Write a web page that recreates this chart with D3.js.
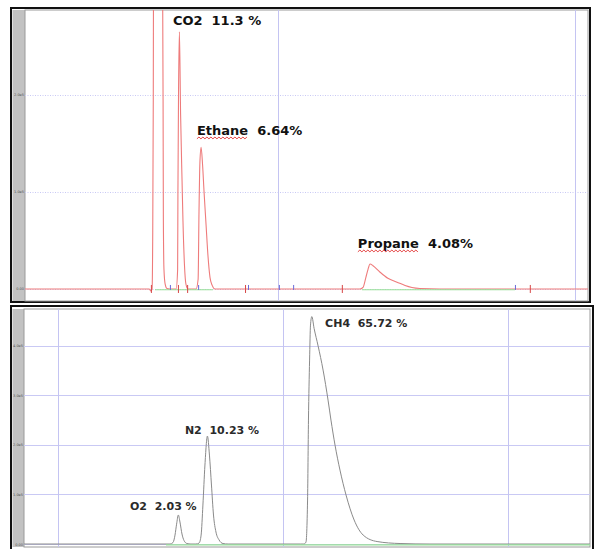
<!DOCTYPE html>
<html>
<head>
<meta charset="utf-8">
<script src="https://cdn.jsdelivr.net/npm/d3@7"></script>
<style>
  body { margin: 0; background: #fff; }
  svg { display: block; }
</style>
</head>
<body>
<svg id="chart" width="597" height="549"></svg>
<script>
// ---- data (time in min, detector signal) ----
// upper chromatogram (red trace)
const topTrace = [
  [0.148, 0], [0.566, 0], [0.572, -2], [0.576, 0], [0.578, 50], [0.580, 195], [0.581, 350],
  [0.596, 500], [0.611, 350], [0.613, 195], [0.614, 71], [0.616, 20], [0.620, 5], [0.626, 0.5], [0.636, 0],
  // CO2
  [0.657, 0], [0.662, 20], [0.663, 100], [0.665, 200], [0.668, 265], [0.672, 180], [0.677, 110],
  [0.680, 70], [0.685, 25], [0.690, 5], [0.697, 0],
  // ethane
  [0.724, 0], [0.731, 10], [0.734, 80], [0.737, 130], [0.741, 146], [0.746, 128], [0.751, 100],
  [0.758, 65], [0.764, 35], [0.771, 12], [0.778, 4], [0.788, 0],
  // propane
  [1.276, 0], [1.286, 1.5], [1.296, 12], [1.303, 20], [1.310, 25.8], [1.320, 24], [1.343, 17.5],
  [1.370, 11], [1.401, 7], [1.428, 3.5], [1.451, 1.5], [1.478, 0.5], [1.545, 0],
  [2.044, 0]
];
// lower chromatogram (grey trace)
const bottomTrace = [
  [0.849, 0], [1.498, 0],
  // O2
  [1.511, 3], [1.520, 18], [1.527, 40], [1.535, 58.5], [1.542, 44.4], [1.551, 20.2], [1.560, 7.1],
  [1.573, 1], [1.591, 0],
  // N2
  [1.613, 0], [1.627, 2], [1.636, 18], [1.644, 78.6], [1.653, 159.3], [1.664, 217.7], [1.673, 179.4],
  [1.682, 119], [1.691, 58.5], [1.702, 24.2], [1.716, 8.1], [1.733, 1], [1.756, 0],
  // CH4
  [2.076, 0], [2.093, 0], [2.102, 4], [2.109, 88.7], [2.113, 250], [2.118, 371], [2.122, 441.5],
  [2.128, 458.7], [2.138, 435], [2.156, 399.2], [2.178, 350.8], [2.200, 290.3], [2.213, 250],
  [2.231, 199.6], [2.253, 149.2], [2.280, 98.8], [2.316, 48.4], [2.356, 18.1], [2.418, 5],
  [2.520, 1], [2.653, 0],
  [3.364, 0]
];

const topLabels = [
  {name: "CO2", value: "11.3 %", t: 0.646, v: 272},
  {name: "Ethane", value: "6.64%", t: 0.727, v: 158.8, squiggle: true},
  {name: "Propane", value: "4.08%", t: 1.269, v: 42.3, squiggle: true}
];
const bottomLabels = [
  {name: "O2", value: "2.03 %", t: 1.320, v: 68.5},
  {name: "N2", value: "10.23 %", t: 1.564, v: 221.8},
  {name: "CH4", value: "65.72 %", t: 2.187, v: 437.5}
];

// integration baselines and marks
const topBaselines = [[0.586, 0.781], [1.283, 1.798]];
const bottomBaselines = [[1.480, 3.364]];
const topRedTicks = [0.572, 0.663, 0.694, 0.889, 1.215, 1.848];
const topBlueTicks = [0.636, 0.731, 0.899, 1.003, 1.051, 1.798];

const topXGrid = [1, 2];
const topYGrid = [0, 100, 200];
const topYTickLabels = ["0.00", "1.0e5", "2.0e5"];
const bottomXGrid = [1, 2, 3];
const bottomYGrid = [0, 100, 200, 300, 400];
const bottomYTickLabels = ["0.00", "1.0e5", "2.0e5", "3.0e5", "4.0e5"];

const svg = d3.select("#chart");

const panels = [
  {
    id: "top",
    frame: {x0: 11, y0: 8, x1: 590, y1: 302},
    plot: {x0: 25, y0: 10, x1: 588, y1: 301},
    xDomain: [0.148, 2.044], yDomain: [-12.4, 287.6],
    xGrid: topXGrid, yGrid: topYGrid, yLabels: topYTickLabels,
    hDash: "1,1.5", trace: topTrace, color: "#ee7b7b", width: 1.1,
    baselines: topBaselines, labels: topLabels, fontSize: 13, labelColor: "#111"
  },
  {
    id: "bottom",
    frame: {x0: 11, y0: 306, x1: 593, y1: 551},
    plot: {x0: 24, y0: 309, x1: 590, y1: 547},
    xDomain: [0.849, 3.364], yDomain: [-6, 474],
    xGrid: bottomXGrid, yGrid: bottomYGrid, yLabels: bottomYTickLabels,
    hDash: null, trace: bottomTrace, color: "#8a8a8a", width: 1,
    baselines: bottomBaselines, labels: bottomLabels, fontSize: 11, labelColor: "#2a2a2a"
  }
];

const drawPanel = function(p){
  const {frame, plot} = p;
  const g = svg.append("g").attr("class", "panel-" + p.id);
  const x = d3.scaleLinear(p.xDomain, [plot.x0, plot.x1]);
  const y = d3.scaleLinear(p.yDomain, [plot.y1, plot.y0]);

  // outer frame and grey strip
  g.append("rect")
    .attr("x", frame.x0).attr("y", frame.y0)
    .attr("width", frame.x1 - frame.x0).attr("height", frame.y1 - frame.y0)
    .attr("fill", "#fff").attr("stroke", "#111").attr("stroke-width", 2);
  g.append("rect")
    .attr("x", frame.x0 + 1.5).attr("y", plot.y0)
    .attr("width", plot.x0 - frame.x0 - 1.5).attr("height", plot.y1 - plot.y0)
    .attr("fill", "#c2c2c2");
  g.append("rect")
    .attr("x", plot.x0).attr("y", plot.y0)
    .attr("width", plot.x1 - plot.x0).attr("height", plot.y1 - plot.y0)
    .attr("fill", "#fff").attr("stroke", "#9a9a9a").attr("stroke-width", 1);

  g.append("clipPath").attr("id", "clip-" + p.id)
    .append("rect")
    .attr("x", plot.x0).attr("y", plot.y0)
    .attr("width", plot.x1 - plot.x0).attr("height", plot.y1 - plot.y0);

  // grid
  g.append("g").selectAll("line").data(p.yGrid).join("line")
    .attr("x1", plot.x0).attr("x2", plot.x1)
    .attr("y1", d => Math.round(y(d)) + 0.5).attr("y2", d => Math.round(y(d)) + 0.5)
    .attr("stroke", "#c9c9f4").attr("stroke-width", 1)
    .attr("stroke-dasharray", p.hDash);
  g.append("g").selectAll("line").data(p.xGrid).join("line")
    .attr("x1", d => Math.round(x(d)) + 0.5).attr("x2", d => Math.round(x(d)) + 0.5)
    .attr("y1", plot.y0).attr("y2", plot.y1)
    .attr("stroke", "#c4c4f2").attr("stroke-width", 1);

  // tiny tick labels in strip
  g.append("g").selectAll("text").data(p.yGrid).join("text")
    .attr("x", plot.x0 - 1).attr("y", d => y(d) + 1.5)
    .attr("text-anchor", "end")
    .attr("font-family", "DejaVu Sans, sans-serif").attr("font-size", 3.5)
    .attr("fill", "#555")
    .text((d, i) => p.yLabels[i]);

  const body = g.append("g").attr("clip-path", `url(#clip-${p.id})`);

  const line = d3.line()
    .x(d => x(d[0]))
    .y(d => y(d[1]))
    .curve(d3.curveMonotoneX);

  body.append("path")
    .datum(p.trace)
    .attr("d", line)
    .attr("fill", "none")
    .attr("stroke", p.color)
    .attr("stroke-width", p.width);

  // integration baselines, drawn over the flat part of the trace
  body.append("g").selectAll("line").data(p.baselines).join("line")
    .attr("x1", d => x(d[0])).attr("x2", d => x(d[1]))
    .attr("y1", y(0) + 0.8).attr("y2", y(0) + 0.8)
    .attr("stroke", "#96e096").attr("stroke-width", 1.2);

  // peak labels
  const lab = g.append("g").selectAll("g").data(p.labels).join("g");
  lab.append("text")
    .attr("x", d => x(d.t)).attr("y", d => y(d.v))
    .attr("font-family", "DejaVu Sans, Verdana, sans-serif")
    .attr("font-weight", "bold")
    .attr("font-size", p.fontSize)
    .attr("fill", p.labelColor)
    .attr("xml:space", "preserve")
    .text(d => d.name + "  " + d.value);

  // spell-check squiggle under some names
  lab.filter(d => d.squiggle).each(function(d){
    const tmp = d3.select(this).append("text")
      .attr("font-family", "DejaVu Sans, Verdana, sans-serif")
      .attr("font-weight", "bold").attr("font-size", p.fontSize)
      .text(d.name);
    const len = tmp.node().getComputedTextLength();
    tmp.remove();
    const x0 = x(d.t), yy = y(d.v) + 3;
    const pts = d3.range(0, Math.floor(len / 2) + 1).map(i => [x0 + i * 2, yy + (i % 2 ? -0.9 : 0.9)]);
    d3.select(this).append("path")
      .attr("d", d3.line()(pts))
      .attr("fill", "none").attr("stroke", "#e03030").attr("stroke-width", 0.9);
  });

  return {x, y, body};
};

const upper = drawPanel(panels[0]);
drawPanel(panels[1]);

// integration tick marks on the upper trace
upper.body.append("g").selectAll("line").data(topRedTicks).join("line")
  .attr("x1", d => upper.x(d) + 0.5).attr("x2", d => upper.x(d) + 0.5)
  .attr("y1", upper.y(0) - 4).attr("y2", upper.y(0) + 4)
  .attr("stroke", "#d64545").attr("stroke-width", 1);
upper.body.append("g").selectAll("line").data(topBlueTicks).join("line")
  .attr("x1", d => upper.x(d) + 0.5).attr("x2", d => upper.x(d) + 0.5)
  .attr("y1", upper.y(0) - 4).attr("y2", upper.y(0) + 1)
  .attr("stroke", "#6a6ad8").attr("stroke-width", 1);
</script>
</body>
</html>
